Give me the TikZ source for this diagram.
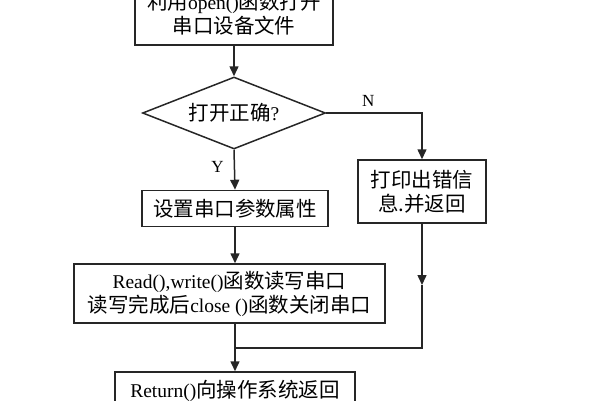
\documentclass[tikz,border=0pt]{standalone}
\usepackage{fontspec}
\setmainfont{Liberation Serif}
\newfontfamily\cjk{Noto Sans CJK SC}[Scale=1.05]
\usetikzlibrary{arrows.meta,positioning,shapes.geometric}
\newcommand{\zh}[1]{{\cjk #1}}
\tikzset{
  flowarrow/.style={-{Triangle[length=10pt,width=9pt]}, line width=1.5pt, draw=black!85},
  flowline/.style={line width=1.5pt, draw=black!85},
  stepbox/.style={draw=black!85, line width=1.5pt, align=center, inner sep=0pt,
    font=\fontsize{19.5}{24}\selectfont},
  decision/.style={diamond, draw=black!85, line width=1.5pt, align=center, inner sep=0pt,
    aspect=2.5, minimum width=183pt, minimum height=72pt, font=\fontsize{19.5}{24}\selectfont},
  smallnote/.style={font=\fontsize{17}{20}\selectfont, inner sep=1pt}
}
\begin{document}
\begin{tikzpicture}[x=1pt, y=-1pt]
  \useasboundingbox (0,0) rectangle (600,400);
  \clip (0,0) rectangle (600,400);

  \node[stepbox, minimum width=198pt, minimum height=62pt] (open) at (234,14)
    {\zh{利用}open()\zh{函数打开}\\\zh{串口设备文件}};
  \node[decision] (chk) at (234,113) {\zh{打开正确}?};
  \node[stepbox, minimum width=186pt, minimum height=36pt] (set) at (235,208.5)
    {\zh{设置串口参数属性}};
  \node[stepbox, minimum width=128pt, minimum height=63pt] (err) at (422,191.5)
    {\zh{打印出错信}\\\zh{息.并返回}};
  \node[stepbox, minimum width=311pt, minimum height=59pt] (rw) at (229.5,293.5)
    {Read(),write()\zh{函数读写串口}\\\zh{读写完成后}close ()\zh{函数关闭串口}};
  \node[stepbox, minimum width=240pt, minimum height=38pt] (ret) at (235,391)
    {Return()\zh{向操作系统返回}};

  \coordinate (join) at (235,348);
  \coordinate (midtip) at (422,285);

  \draw[flowarrow] (open.south) -- (chk.north);
  \draw[flowarrow] (chk.east) -| node[smallnote, pos=0.22, above=5pt] {N} (err.north);
  \draw[flowarrow] (chk.south) -- node[smallnote, pos=0.42, left=9pt] {Y} (set.north);
  \draw[flowarrow] (set.south) -- (set.south |- rw.north);
  \draw[flowline] (rw.south -| join) -- (join);
  \draw[flowarrow] (join) -- (ret.north);
  \draw[flowarrow] (err.south) -- (midtip);
  \draw[flowline] (midtip) |- (join);
\end{tikzpicture}
\end{document}
